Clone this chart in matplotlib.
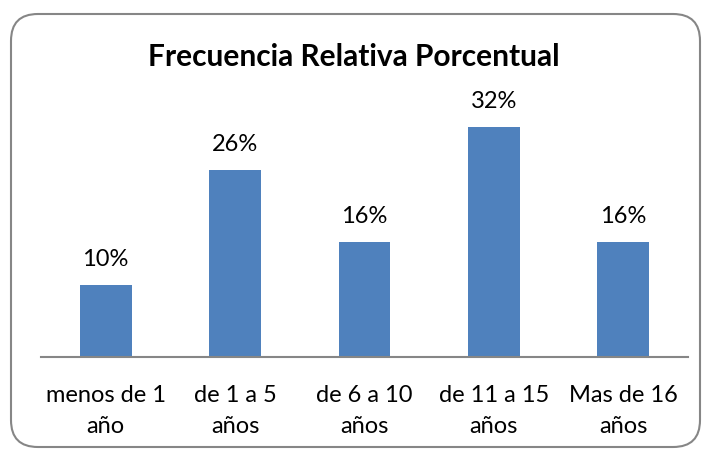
import matplotlib.pyplot as plt
from matplotlib.patches import FancyBboxPatch

# datos
categorias = ["menos de 1\naño", "de 1 a 5\naños", "de 6 a 10\naños",
              "de 11 a 15\naños", "Mas de 16\naños"]
valores = [0.10, 0.26, 0.16, 0.32, 0.16]
etiquetas = ["10%", "26%", "16%", "32%", "16%"]

plt.rcParams['font.family'] = ['Lato', 'DejaVu Sans']

fig = plt.figure(figsize=(7.07, 4.5), dpi=100)

# marco redondeado
marco = FancyBboxPatch((11/707, 3/450), 689/707, 433/450,
                       boxstyle="round,pad=0,rounding_size=0.038",
                       transform=fig.transFigure, facecolor='none',
                       edgecolor='#868686', linewidth=1.5,
                       mutation_aspect=707/450, zorder=-1)
fig.patches.append(marco)

ax = fig.add_axes([41/707, 93/450, 647/707, 251.6/450])
ax.patch.set_alpha(0)
x = range(len(categorias))
ax.bar(x, valores, width=0.4, color='#4F81BD')
for i, v in enumerate(valores):
    ax.text(i, v + 0.021, etiquetas[i], ha='center', va='bottom', fontsize=17)

ax.set_xlim(-0.5, len(categorias) - 0.5)
ax.set_ylim(0, 0.35)
ax.set_xticks(list(x))
ax.set_xticklabels(categorias, fontsize=17, linespacing=1.6)
ax.tick_params(length=0, pad=20)
ax.set_yticks([])
for s in ['top', 'right', 'left']:
    ax.spines[s].set_visible(False)
ax.spines['bottom'].set_color('#868686')
ax.spines['bottom'].set_linewidth(1.5)

fig.text(0.5, 1 - 57/450, "Frecuencia Relativa Porcentual", ha='center',
         va='center', fontsize=21.5, fontweight='bold')

fig.savefig("out.png", dpi=100)
